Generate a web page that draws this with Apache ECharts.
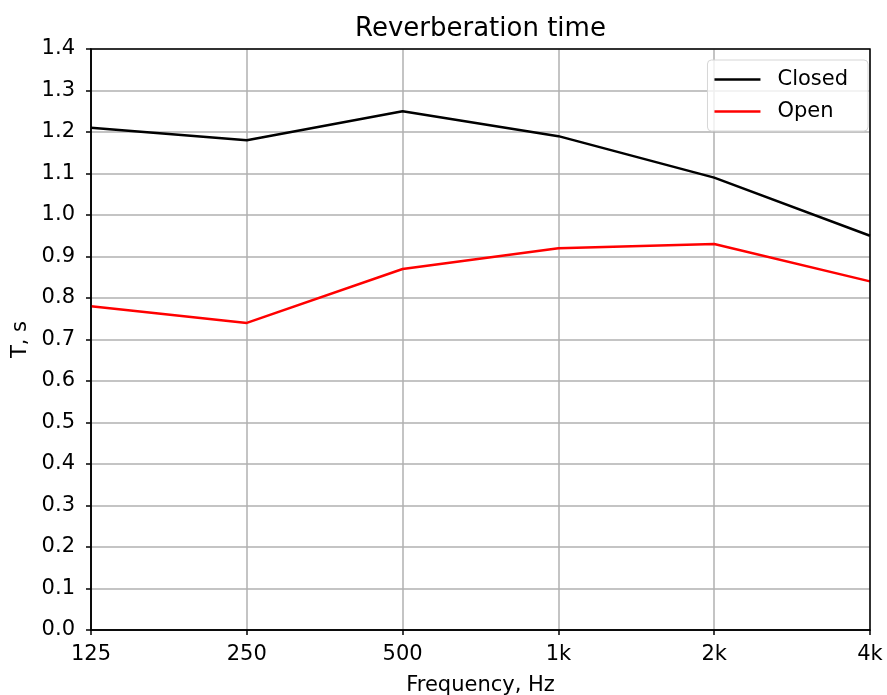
<!DOCTYPE html>
<html lang="en">
<head>
    <meta charset="utf-8">
    <title>Reverberation time</title>
    <script src="https://cdn.jsdelivr.net/npm/echarts@6/dist/echarts.min.js"></script>
</head>
<body style="margin:0">
    <div id="main" style="width:887px;height:695px;"></div>
    <script type="text/javascript">
        // data
        var freqs = ['125', '250', '500', '1k', '2k', '4k'];
        var closedT = [1.21, 1.18, 1.25, 1.19, 1.09, 0.95];
        var openT = [0.78, 0.74, 0.87, 0.92, 0.93, 0.84];

        var font = 'DejaVu Sans';
        var myChart = echarts.init(document.getElementById('main'));

        myChart.setOption({
            animation: false,
            backgroundColor: '#fff',
            textStyle: { fontFamily: font },
            title: {
                text: 'Reverberation time',
                left: 355,   // centred over the plot area, not the page
                top: 16,
                padding: 0,
                textStyle: { fontFamily: font, fontSize: 26, fontWeight: 'normal', color: '#000' }
            },
            legend: {
                data: ['Closed', 'Open'],
                orient: 'vertical',
                right: 19,
                top: 60,
                itemWidth: 46,
                itemHeight: 2.5,
                itemGap: 11,
                padding: [9, 20, 9, 7],
                backgroundColor: 'rgba(255,255,255,0.8)',
                borderColor: '#d6d6d6',
                borderWidth: 1,
                borderRadius: 4,
                icon: 'rect',
                textStyle: { fontFamily: font, fontSize: 21, color: '#000', padding: [0, 0, 0, 12] }
            },
            grid: { left: 91, right: 17, top: 49, bottom: 65, outerBoundsMode: 'none', containLabel: false },
            xAxis: {
                type: 'category',
                data: freqs,
                boundaryGap: false,
                name: 'Frequency, Hz',
                nameLocation: 'middle',
                nameGap: 45,
                nameTextStyle: { fontFamily: font, fontSize: 21, color: '#000' },
                axisLine: { lineStyle: { color: '#000', width: 1.5 } },
                axisTick: { alignWithLabel: true, length: 5, lineStyle: { color: '#000', width: 1.5 } },
                axisLabel: { fontFamily: font, fontSize: 21, color: '#000', margin: 14, hideOverlap: false },
                splitLine: { show: true, lineStyle: { color: '#b0b0b0', width: 1.5 } }
            },
            yAxis: {
                type: 'value',
                min: 0,
                max: 1.4,
                interval: 0.1,
                name: 'T, s',
                nameLocation: 'middle',
                nameGap: 59,
                nameTextStyle: { fontFamily: font, fontSize: 21, color: '#000' },
                axisLine: { show: true, lineStyle: { color: '#000', width: 1.5 } },
                axisTick: { show: true, length: 5, lineStyle: { color: '#000', width: 1.5 } },
                axisLabel: {
                    fontFamily: font, fontSize: 21, color: '#000', margin: 16,
                    formatter: function (v) { return v.toFixed(1); }
                },
                splitLine: { show: true, lineStyle: { color: '#b0b0b0', width: 1.5 } }
            },
            series: [{
                name: 'Closed',
                type: 'line',
                data: closedT,
                symbol: 'none',
                color: '#000',
                lineStyle: { color: '#000', width: 2.5 }
            }, {
                name: 'Open',
                type: 'line',
                data: openT,
                symbol: 'none',
                color: '#ff0000',
                lineStyle: { color: '#ff0000', width: 2.5 }
            }]
        });

        // top and right spines like the reference frame
        myChart.setOption({
            graphic: [{
                type: 'rect',
                shape: { x: 91, y: 49, width: 779, height: 581 },
                style: { fill: null, stroke: '#000', lineWidth: 1.5 },
                silent: true,
                z: 100
            }]
        });
    </script>
</body>
</html>
